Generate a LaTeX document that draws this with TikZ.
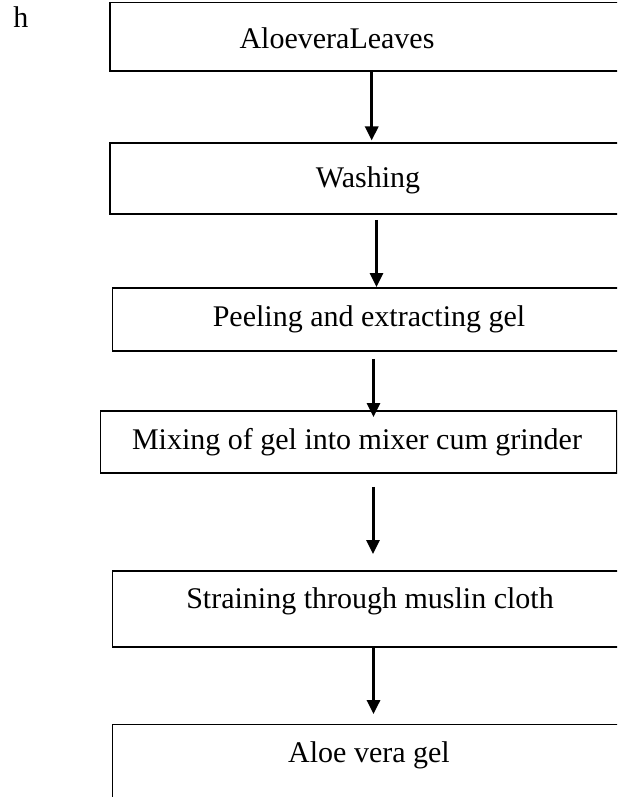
\documentclass[tikz,border=0pt]{standalone}
\usepackage{fontspec}
\setmainfont{Liberation Serif}
\usetikzlibrary{arrows.meta}
\begin{document}
\begin{tikzpicture}[x=0.5pt,y=-0.5pt,
  stepbox/.style={draw=black,line width=0.9pt,rectangle,inner sep=0pt,anchor=north west},
  steptext/.style={inner sep=0pt,anchor=base,font=\fontsize{15}{18}\selectfont},
  arr/.style={line width=1.5pt,-{Triangle[width=6.5pt,length=7pt]}}]
\useasboundingbox (0,0) rectangle (617,797);
\clip (0,0) rectangle (617,797);
% boxes
\node[stepbox,minimum width=265.65pt,minimum height=34.4pt] (b1) at (108.7,1.7) {};
\node[stepbox,minimum width=265.65pt,minimum height=35.65pt] (b2) at (108.7,141.7) {};
\node[stepbox,minimum width=264.25pt,minimum height=31.5pt] (b3) at (111.5,287) {};
\node[stepbox,minimum width=258.25pt,minimum height=31pt] (b4) at (99.5,410) {};
\node[stepbox,minimum width=264.25pt,minimum height=38pt] (b5) at (111.5,570) {};
\node[stepbox,minimum width=264.25pt,minimum height=53.25pt] (b6) at (111.5,723.5) {};
% texts
\node[steptext,anchor=base west] (h) at (13,28) {h};
\node[steptext] (t1) at (337,49) {AloeveraLeaves};
\node[steptext] (t2) at (368,187) {Washing};
\node[steptext] (t3) at (369,326) {Peeling and extracting gel};
\node[steptext] (t4) at (357,449) {Mixing of gel into mixer cum grinder};
\node[steptext] (t5) at (370,608) {Straining through muslin cloth};
\node[steptext] (t6) at (369,762) {Aloe vera gel};
% arrow columns
\coordinate (x1) at (371.7,0);
\coordinate (x2) at (376.5,0);
\coordinate (x3) at (373.5,0);
\coordinate (x4) at (373,0);
\coordinate (x5) at (373.5,0);
% arrows
\draw[arr] (b1.south -| x1) -- ([yshift=0.6pt]b2.north -| x1);
\draw[arr] ([yshift=-2.5pt]b2.south -| x2) -- (b3.north -| x2);
\draw[arr] ([yshift=-3.5pt]b3.south -| x3) -- ([yshift=-3.5pt]b4.north -| x3);
\draw[arr] ([yshift=-6.5pt]b4.south -| x4) -- ([yshift=8pt]b5.north -| x4);
\draw[arr] (b5.south -| x5) -- ([yshift=4.7pt]b6.north -| x5);
\end{tikzpicture}
\end{document}
